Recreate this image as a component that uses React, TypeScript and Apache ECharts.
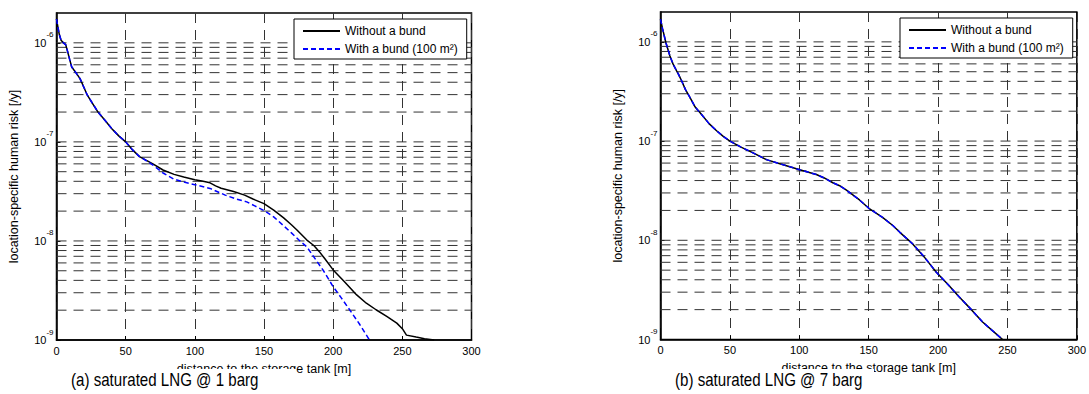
import React, { useEffect, useRef } from "react";
import * as echarts from "echarts";

const FONT = "'Liberation Sans', Arial, sans-serif";

const seriesNames = ["Without a bund", "With a bund (100 m²)"];
const captions = ["(a) saturated LNG @ 1 barg", "(b) saturated LNG @ 7 barg"];
const xAxisTitle = "distance to the storage tank [m]";
const yAxisTitle = "location-specific human risk [/y]";
const xTickStep = 50;
const xRange = [0, 300];
const yRange = [1e-9, 2e-6];
const gridDecades = [-9, -8, -7, -6];
const gridFactors = [1, 2, 3, 4, 5, 6, 7, 8, 9];

// (a) 1 barg, without a bund
const leftWithoutDist = [0, 1, 2, 3.3, 5, 6.6, 8, 9.5, 11, 14, 17, 20, 22.3, 26, 30, 35, 40, 45, 50, 55, 60, 65, 70, 77, 85, 92, 100, 106, 111, 115, 119, 128, 136, 142, 150, 157, 164, 170, 174, 181, 186, 190, 194, 200, 208, 217, 224, 231, 239, 246, 250, 253, 260, 266, 273];
const leftWithoutRisk = [1.73e-6, 1.45e-6, 1.22e-6, 1.06e-6, 1.0e-6, 9.6e-7, 8.2e-7, 6.8e-7, 5.7e-7, 5.0e-7, 4.35e-7, 3.5e-7, 2.96e-7, 2.45e-7, 2.0e-7, 1.65e-7, 1.36e-7, 1.15e-7, 1.0e-7, 8.3e-8, 7.1e-8, 6.5e-8, 5.96e-8, 5.2e-8, 4.7e-8, 4.43e-8, 4.15e-8, 4.0e-8, 3.86e-8, 3.6e-8, 3.4e-8, 3.15e-8, 2.9e-8, 2.65e-8, 2.38e-8, 2.05e-8, 1.72e-8, 1.45e-8, 1.28e-8, 1.02e-8, 9.0e-9, 7.8e-9, 6.6e-9, 5.1e-9, 3.9e-9, 2.85e-9, 2.35e-9, 2.02e-9, 1.72e-9, 1.48e-9, 1.3e-9, 1.12e-9, 1.07e-9, 1.03e-9, 1.0e-9];

// (a) 1 barg, with a bund
const leftWithDist = [0, 1, 2, 3.3, 5, 6.6, 8, 9.5, 11, 14, 17, 20, 22.3, 26, 30, 35, 40, 45, 50, 55, 60, 65, 70, 77, 85, 92, 100, 111, 122, 130, 137.5, 150, 157, 164, 170, 176, 181, 186, 193, 200, 206, 212, 219, 225.5, 227];
const leftWithRisk = [1.73e-6, 1.45e-6, 1.22e-6, 1.06e-6, 1.0e-6, 9.6e-7, 8.2e-7, 6.8e-7, 5.7e-7, 5.0e-7, 4.35e-7, 3.5e-7, 2.96e-7, 2.45e-7, 2.0e-7, 1.65e-7, 1.36e-7, 1.15e-7, 1.0e-7, 8.3e-8, 7.1e-8, 6.45e-8, 5.8e-8, 4.85e-8, 4.2e-8, 3.93e-8, 3.7e-8, 3.39e-8, 2.9e-8, 2.65e-8, 2.48e-8, 2.03e-8, 1.75e-8, 1.43e-8, 1.2e-8, 1.0e-8, 8.7e-9, 6.9e-9, 5.0e-9, 3.45e-9, 2.65e-9, 2.01e-9, 1.45e-9, 1.04e-9, 1.0e-9];

// (b) 7 barg, both cases coincide
const rightDist = [0, 1.5, 3.9, 6.8, 9, 11.6, 13, 15.2, 18, 21.2, 25, 29.6, 35, 40.4, 45, 50, 58, 66.7, 76.3, 86, 100.3, 112.3, 118, 124.2, 129.1, 134, 143.4, 150.7, 160, 167.4, 172.3, 181.7, 190, 198.6, 207, 215.3, 224, 232.1, 240, 246.5];
const rightWithoutRisk = [1.69e-6, 1.35e-6, 9.8e-7, 7.2e-7, 6.0e-7, 5.1e-7, 4.7e-7, 4.06e-7, 3.3e-7, 2.76e-7, 2.2e-7, 1.85e-7, 1.5e-7, 1.27e-7, 1.12e-7, 1.0e-7, 8.7e-8, 7.6e-8, 6.5e-8, 5.9e-8, 5.15e-8, 4.6e-8, 4.25e-8, 3.8e-8, 3.55e-8, 3.2e-8, 2.55e-8, 2.07e-8, 1.7e-8, 1.41e-8, 1.21e-8, 9.2e-9, 6.8e-9, 4.8e-9, 3.6e-9, 2.68e-9, 2.0e-9, 1.5e-9, 1.2e-9, 1.0e-9];
const rightWithRisk = [1.69e-6, 1.35e-6, 9.8e-7, 7.2e-7, 6.0e-7, 5.1e-7, 4.7e-7, 4.06e-7, 3.3e-7, 2.76e-7, 2.2e-7, 1.85e-7, 1.5e-7, 1.27e-7, 1.12e-7, 1.0e-7, 8.7e-8, 7.6e-8, 6.5e-8, 5.9e-8, 5.15e-8, 4.6e-8, 4.25e-8, 3.8e-8, 3.55e-8, 3.2e-8, 2.55e-8, 2.07e-8, 1.7e-8, 1.41e-8, 1.21e-8, 9.2e-9, 6.8e-9, 4.8e-9, 3.6e-9, 2.68e-9, 2.0e-9, 1.5e-9, 1.2e-9, 1.0e-9];

const zip = (xs: number[], ys: number[]) => xs.map((x, i) => [x, ys[i]]);

const hGridValues: number[] = [];
gridDecades.forEach((e) => {
  gridFactors.forEach((k) => {
    const v = k * Math.pow(10, e);
    if (v > yRange[0] * 1.0001 && v < yRange[1] * 0.999) hGridValues.push(v);
  });
});

const GRID_DASH = [10, 7];
const GRID_COLOR = "#333";

export default function App() {
  const ref = useRef<HTMLDivElement>(null);

  useEffect(() => {
    if (!ref.current) return;
    const chart = echarts.init(ref.current, undefined, { renderer: "svg" });

    const grids = [
      { left: 56.5, top: 13, width: 415, height: 327 },
      { left: 660.5, top: 12, width: 417, height: 327.5 },
    ];

    const makeX = (gi: number) => ({
      type: "value",
      gridIndex: gi,
      min: xRange[0],
      max: xRange[1],
      interval: xTickStep,
      axisLine: { show: true, lineStyle: { color: "#000", width: 1.5 } },
      axisTick: { show: true, inside: true, length: 4, lineStyle: { color: "#000" } },
      axisLabel: { color: "#000", fontSize: 11, fontFamily: FONT, margin: 5 },
      splitLine: { show: true, lineStyle: { color: GRID_COLOR, type: GRID_DASH, width: 1 } },
      name: xAxisTitle,
      nameLocation: "middle",
      nameGap: 22,
      nameTextStyle: { color: "#000", fontSize: 12.5, fontFamily: FONT, verticalAlign: "top" },
    });

    const makeY = (gi: number) => ({
      type: "log",
      logBase: 10,
      gridIndex: gi,
      min: yRange[0],
      max: yRange[1],
      axisLine: { show: true, lineStyle: { color: "#000", width: 1.5 } },
      axisTick: { show: true, inside: true, length: 4, lineStyle: { color: "#000" } },
      splitLine: { show: false },
      axisLabel: {
        showMaxLabel: false,
        margin: 3,
        formatter: (v: number) => {
          const e = Math.round(Math.log10(v));
          return `{b|10}{s|${e}}`;
        },
        rich: {
          b: { fontSize: 11, fontFamily: FONT, color: "#000", lineHeight: 24 },
          s: { fontSize: 8, fontFamily: FONT, color: "#000", lineHeight: 10, verticalAlign: "top" },
        },
      },
      name: yAxisTitle,
      nameLocation: "middle",
      nameGap: 36,
      nameTextStyle: { color: "#000", fontSize: 12.5, fontFamily: FONT },
    });

    // horizontal dashed grid lines at 1..9 x 10^n, drawn as data on the log axis
    const gridSeries = (gi: number) => {
      const data: any[] = [];
      hGridValues.forEach((v) => {
        data.push([xRange[0], v], [xRange[1], v], [null, null]);
      });
      return {
        type: "line",
        name: "grid" + gi,
        xAxisIndex: gi,
        yAxisIndex: gi,
        data,
        symbol: "none",
        connectNulls: false,
        silent: true,
        emphasis: { disabled: true },
        lineStyle: { color: GRID_COLOR, type: GRID_DASH, width: 1 },
        z: 1,
      };
    };

    const curve = (gi: number, name: string, data: number[][], blue: boolean) => ({
      type: "line",
      name,
      xAxisIndex: gi,
      yAxisIndex: gi,
      data,
      symbol: "none",
      showSymbol: false,
      color: blue ? "#0000ff" : "#000000",
      lineStyle: { color: blue ? "#0000ff" : "#000000", width: 1.5, type: blue ? [5, 3] : "solid" },
      emphasis: { disabled: true },
      z: blue ? 4 : 3,
    });

    const legendBase = {
      data: seriesNames,
      orient: "vertical",
      backgroundColor: "#fff",
      borderColor: "#000",
      borderWidth: 1,
      borderRadius: 0,
      padding: [6, 9, 4, 8],
      itemGap: 6,
      itemWidth: 37,
      itemHeight: 12,
      selectedMode: false,
      itemStyle: { opacity: 0 },
      textStyle: { color: "#000", fontSize: 12, fontFamily: FONT },
    };

    const caption = (i: number, x: number, rectX: number, rectW: number) => [
      { type: "rect", z: 100, shape: { x: rectX, y: 369, width: rectW, height: 25 }, style: { fill: "#fff" } },
      {
        type: "text",
        z: 101,
        x,
        y: 371,
        scaleX: 0.84,
        style: { text: captions[i], fontSize: 18, fontFamily: FONT, fill: "#000", verticalAlign: "top", align: "left" },
      },
    ];

    chart.setOption({
      animation: false,
      backgroundColor: "#fff",
      grid: grids.map((g) => ({ ...g, show: true, borderColor: "#000", borderWidth: 1.5, backgroundColor: "transparent" })),
      xAxis: [makeX(0), makeX(1)],
      yAxis: [makeY(0), makeY(1)],
      legend: [
        { ...legendBase, left: 294, top: 19 },
        { ...legendBase, left: 900, top: 18 },
      ],
      series: [
        gridSeries(0),
        gridSeries(1),
        curve(0, seriesNames[0], zip(leftWithoutDist, leftWithoutRisk), false),
        curve(0, seriesNames[1], zip(leftWithDist, leftWithRisk), true),
        curve(1, seriesNames[0], zip(rightDist, rightWithoutRisk), false),
        curve(1, seriesNames[1], zip(rightDist, rightWithRisk), true),
      ],
      graphic: [...caption(0, 71, 58, 238), ...caption(1, 675, 662, 212)],
    });

    return () => chart.dispose();
  }, []);

  return (
    <div
      ref={ref}
      style={{ position: "absolute", left: 0, top: 0, width: 1089, height: 394, background: "#fff" }}
    />
  );
}
